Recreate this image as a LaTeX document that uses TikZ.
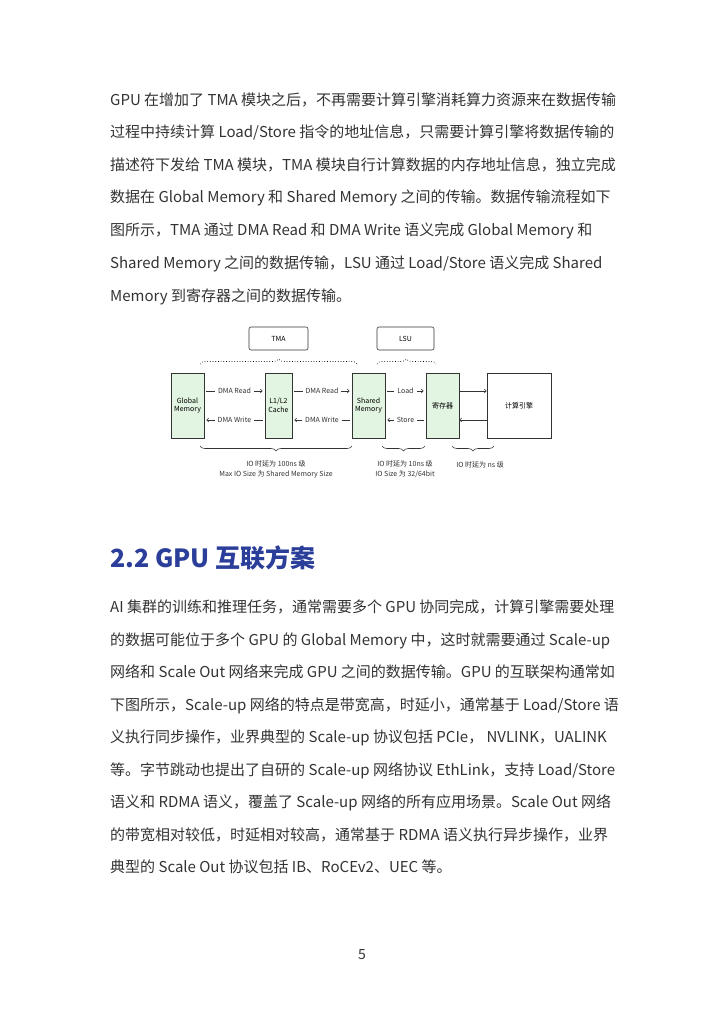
\documentclass[tikz,border=0pt]{standalone}
\usepackage{fontspec}
\setmainfont{Noto Sans CJK SC}
\usetikzlibrary{decorations.pathreplacing,arrows.meta}
\definecolor{txt}{HTML}{333333}
\definecolor{hd}{HTML}{2B3E9A}
\definecolor{gbox}{HTML}{E2F5E2}
\begin{document}
\begin{tikzpicture}[x=1pt,y=-1pt,
 body/.style={anchor=base west,inner sep=0,font=\fontsize{15}{15}\selectfont,text=txt},
 unit/.style={draw=black!80,fill=gbox,line width=0.6pt,align=center,font=\fontsize{7}{8.5}\selectfont,inner sep=0},
 top/.style={draw=black!80,rounded corners=2pt,line width=0.6pt,font=\fontsize{7}{8}\selectfont,inner sep=0},
 lab/.style={fill=white,font=\fontsize{7}{8}\selectfont,inner xsep=3pt,inner ysep=1pt,text=black!80},
 ar/.style={-{Straight Barb[length=2pt,width=4pt]},line width=0.6pt,black!80},
 small/.style={font=\fontsize{7}{10}\selectfont,align=center,text=black!80,inner sep=0}]
\useasboundingbox (0,0) rectangle (724,1024);
\fill[white] (0,0) rectangle (724,1024);
\node[body] (p1) at (110,106) {GPU 在增加了 TMA 模块之后，不再需要计算引擎消耗算力资源来在数据传输};
\node[body] (p2) at (110,138) {过程中持续计算 Load/Store 指令的地址信息，只需要计算引擎将数据传输的};
\node[body] (p3) at (110,171) {描述符下发给 TMA 模块，TMA 模块自行计算数据的内存地址信息，独立完成};
\node[body] (p4) at (110,203) {数据在 Global Memory 和 Shared Memory 之间的传输。数据传输流程如下};
\node[body] (p5) at (110,236) {图所示，TMA 通过 DMA Read 和 DMA Write 语义完成 Global Memory 和};
\node[body] (p6) at (110,268) {Shared Memory 之间的数据传输，LSU 通过 Load/Store 语义完成 Shared};
\node[body] (p7) at (110,301) {Memory 到寄存器之间的数据传输。};
% diagram
\node[top,minimum width=59pt,minimum height=23pt] (tma) at (278.5,338.5) {TMA};
\node[top,minimum width=57pt,minimum height=23pt] (lsu) at (405.5,338.5) {LSU};
\draw[dotted,line width=0.7pt,decorate,decoration={brace,amplitude=5pt}] (200,364) -- (357,364);
\draw[dotted,line width=0.7pt,decorate,decoration={brace,amplitude=5pt}] (377,364) -- (436,364);
\node[unit,minimum width=33pt,minimum height=65pt] (gm) at (187.5,405.5) {Global\\Memory};
\node[unit,minimum width=27pt,minimum height=65pt] (l1) at (278.5,405.5) {L1/L2\\Cache};
\node[unit,minimum width=33pt,minimum height=65pt] (sm) at (368.5,405.5) {Shared\\Memory};
\node[unit,minimum width=33pt,minimum height=65pt] (rg) at (442.5,405.5) {寄存器};
\node[unit,fill=white,minimum width=64pt,minimum height=65pt] (ce) at (519,405.5) {计算引擎};
\draw[ar] ([xshift=2pt]gm.east|-0,391) -- node[lab]{DMA Read} ([xshift=-2pt]l1.west|-0,391);
\draw[ar] ([xshift=-2pt]l1.west|-0,420) -- node[lab]{DMA Write} ([xshift=2pt]gm.east|-0,420);
\draw[ar] ([xshift=2pt]l1.east|-0,391) -- node[lab]{DMA Read} ([xshift=-2pt]sm.west|-0,391);
\draw[ar] ([xshift=-2pt]sm.west|-0,420) -- node[lab]{DMA Write} ([xshift=2pt]l1.east|-0,420);
\draw[ar] ([xshift=2pt]sm.east|-0,391) -- node[lab]{Load} ([xshift=-2pt]rg.west|-0,391);
\draw[ar] ([xshift=-2pt]rg.west|-0,420) -- node[lab]{Store} ([xshift=2pt]sm.east|-0,420);
\draw[ar] (rg.east|-0,391) -- (ce.west|-0,391);
\draw[ar] (ce.west|-0,420) -- (rg.east|-0,420);
\draw[line width=0.6pt,black!80,decorate,decoration={brace,amplitude=5pt,mirror}] (200,446) -- (352,446);
\draw[line width=0.6pt,black!80,decorate,decoration={brace,amplitude=5pt,mirror}] (382,446) -- (425,446);
\draw[line width=0.6pt,black!80,decorate,decoration={brace,amplitude=5pt,mirror}] (452,446) -- (494,446);
\node[small] (b1) at (276,469) {IO 时延为 100ns 级\\Max IO Size 为 Shared Memory Size};
\node[small] (b2) at (405,469) {IO 时延为 10ns 级\\IO Size 为 32/64bit};
\node[small] (b3) at (480,465) {IO 时延为 ns 级};
% heading
\node[anchor=base west,inner sep=0,font=\fontsize{25}{25}\selectfont\bfseries,text=hd] (h) at (110,567) {2.2 GPU 互联方案};
\node[body] (q1) at (110,612) {AI 集群的训练和推理任务，通常需要多个 GPU 协同完成，计算引擎需要处理};
\node[body] (q2) at (110,645) {的数据可能位于多个 GPU 的 Global Memory 中，这时就需要通过 Scale-up};
\node[body] (q3) at (110,677) {网络和 Scale Out 网络来完成 GPU 之间的数据传输。GPU 的互联架构通常如};
\node[body] (q4) at (110,710) {下图所示，Scale-up 网络的特点是带宽高，时延小，通常基于 Load/Store 语};
\node[body] (q5) at (110,742) {义执行同步操作，业界典型的 Scale-up 协议包括 PCIe， NVLINK，UALINK};
\node[body] (q6) at (110,775) {等。字节跳动也提出了自研的 Scale-up 网络协议 EthLink，支持 Load/Store};
\node[body] (q7) at (110,807) {语义和 RDMA 语义，覆盖了 Scale-up 网络的所有应用场景。Scale Out 网络};
\node[body] (q8) at (110,840) {的带宽相对较低，时延相对较高，通常基于 RDMA 语义执行异步操作，业界};
\node[body] (q9) at (110,872) {典型的 Scale Out 协议包括 IB、RoCEv2、UEC 等。};
\node[inner sep=0,font=\fontsize{14}{14}\selectfont,text=txt] (pg) at (362,955) {5};
\end{tikzpicture}
\end{document}
